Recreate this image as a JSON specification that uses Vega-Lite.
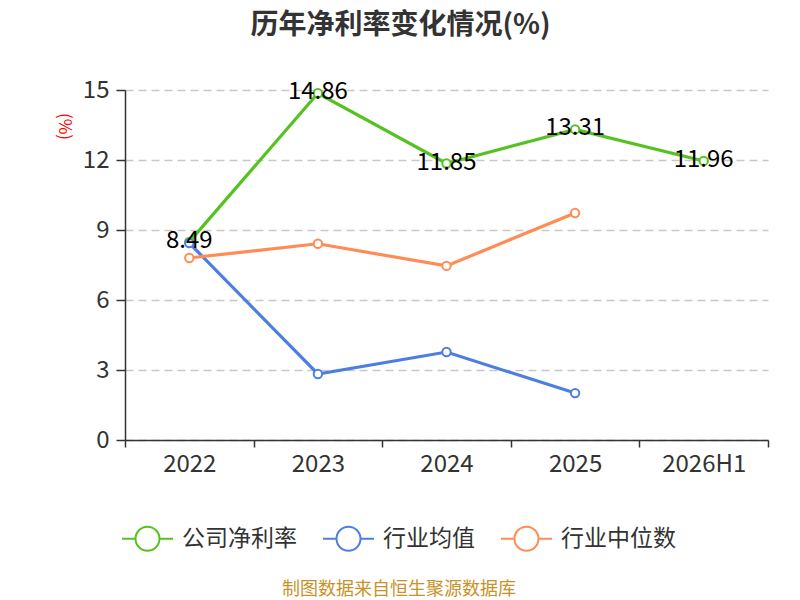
{
  "$schema": "https://vega.github.io/schema/vega-lite/v6.json",
  "autosize": "none",
  "width": 643,
  "height": 350,
  "padding": {"left": 125, "top": 90, "right": 32, "bottom": 160},
  "background": "white",
  "title": {
    "text": "历年净利率变化情况(%)",
    "fontSize": 28,
    "fontWeight": "bold",
    "color": "#333333",
    "font": "Noto Sans CJK SC",
    "anchor": "middle",
    "frame": "group",
    "dx": -46,
    "offset": 38
  },
  "data": {
    "values": [
      {"period": "2022", "series": "公司净利率", "value": 8.49},
      {"period": "2023", "series": "公司净利率", "value": 14.86},
      {"period": "2024", "series": "公司净利率", "value": 11.85},
      {"period": "2025", "series": "公司净利率", "value": 13.31},
      {"period": "2026H1", "series": "公司净利率", "value": 11.96},
      {"period": "2022", "series": "行业均值", "value": 8.44},
      {"period": "2023", "series": "行业均值", "value": 2.83},
      {"period": "2024", "series": "行业均值", "value": 3.77},
      {"period": "2025", "series": "行业均值", "value": 2.01},
      {"period": "2022", "series": "行业中位数", "value": 7.8},
      {"period": "2023", "series": "行业中位数", "value": 8.41},
      {"period": "2024", "series": "行业中位数", "value": 7.46},
      {"period": "2025", "series": "行业中位数", "value": 9.73}
    ]
  },
  "encoding": {
    "x": {
      "field": "period",
      "type": "ordinal",
      "sort": ["2022", "2023", "2024", "2025", "2026H1"],
      "scale": {"type": "band", "paddingInner": 0, "paddingOuter": 0},
      "axis": {
        "title": null,
        "labelAngle": 0,
        "labelFontSize": 24,
        "labelColor": "#333333",
        "labelPadding": 5,
        "tickBand": "extent",
        "tickSize": 7,
        "tickColor": "#333333",
        "tickWidth": 1.5,
        "domainColor": "#333333",
        "domainWidth": 1.5,
        "grid": false
      }
    },
    "y": {
      "field": "value",
      "type": "quantitative",
      "scale": {"domain": [0, 15], "nice": false},
      "axis": {
        "values": [0, 3, 6, 9, 12, 15],
        "title": "(%)",
        "titleColor": "#ff0000",
        "titleFontSize": 17,
        "titleFontWeight": "normal",
        "titleAngle": 90,
        "titleX": -62,
        "titleY": 36,
        "titleAlign": "center",
        "titleBaseline": "middle",
        "labelFontSize": 24,
        "labelColor": "#333333",
        "labelPadding": 7,
        "tickSize": 9,
        "tickColor": "#333333",
        "tickWidth": 1.5,
        "domainColor": "#333333",
        "domainWidth": 1.5,
        "grid": true,
        "gridColor": "#c8c8c8",
        "gridDash": [8, 5],
        "gridWidth": 1.3
      }
    }
  },
  "layer": [
    {
      "mark": {
        "type": "line",
        "strokeWidth": 3.2,
        "point": {"filled": false, "fill": "white", "size": 70, "strokeWidth": 2}
      },
      "encoding": {
        "color": {
          "field": "series",
          "type": "nominal",
          "sort": ["公司净利率", "行业均值", "行业中位数"],
          "scale": {
            "domain": ["公司净利率", "行业均值", "行业中位数"],
            "range": ["#56c221", "#4d7fe0", "#ff8c55"]
          },
          "legend": {
            "title": "制图数据来自恒生聚源数据库",
            "titleOrient": "bottom",
            "titleAnchor": "middle",
            "titleColor": "#c8922a",
            "titleFontSize": 18,
            "titleFontWeight": "normal",
            "titleLimit": 700,
            "titlePadding": 26,
            "orient": "none",
            "direction": "horizontal",
            "legendX": -4,
            "legendY": 422,
            "symbolType": "M-1,0L-0.47,0M0.47,0L1,0M0.47,0A0.47,0.47,0,1,1,-0.47,0A0.47,0.47,0,1,1,0.47,0",
            "symbolSize": 2600,
            "symbolStrokeWidth": 2,
            "symbolFillColor": "white",
            "labelFontSize": 23,
            "labelColor": "#333333",
            "labelOffset": 8,
            "columnPadding": 22
          }
        }
      }
    },
    {
      "transform": [{"filter": "datum.series === '公司净利率'"}],
      "mark": {"type": "text", "fontSize": 24, "color": "#000000", "baseline": "middle", "dy": -1},
      "encoding": {
        "text": {"field": "value", "type": "quantitative", "format": ".2f"}
      }
    }
  ],
  "config": {
    "font": "Noto Sans CJK SC",
    "view": {"stroke": null}
  }
}
